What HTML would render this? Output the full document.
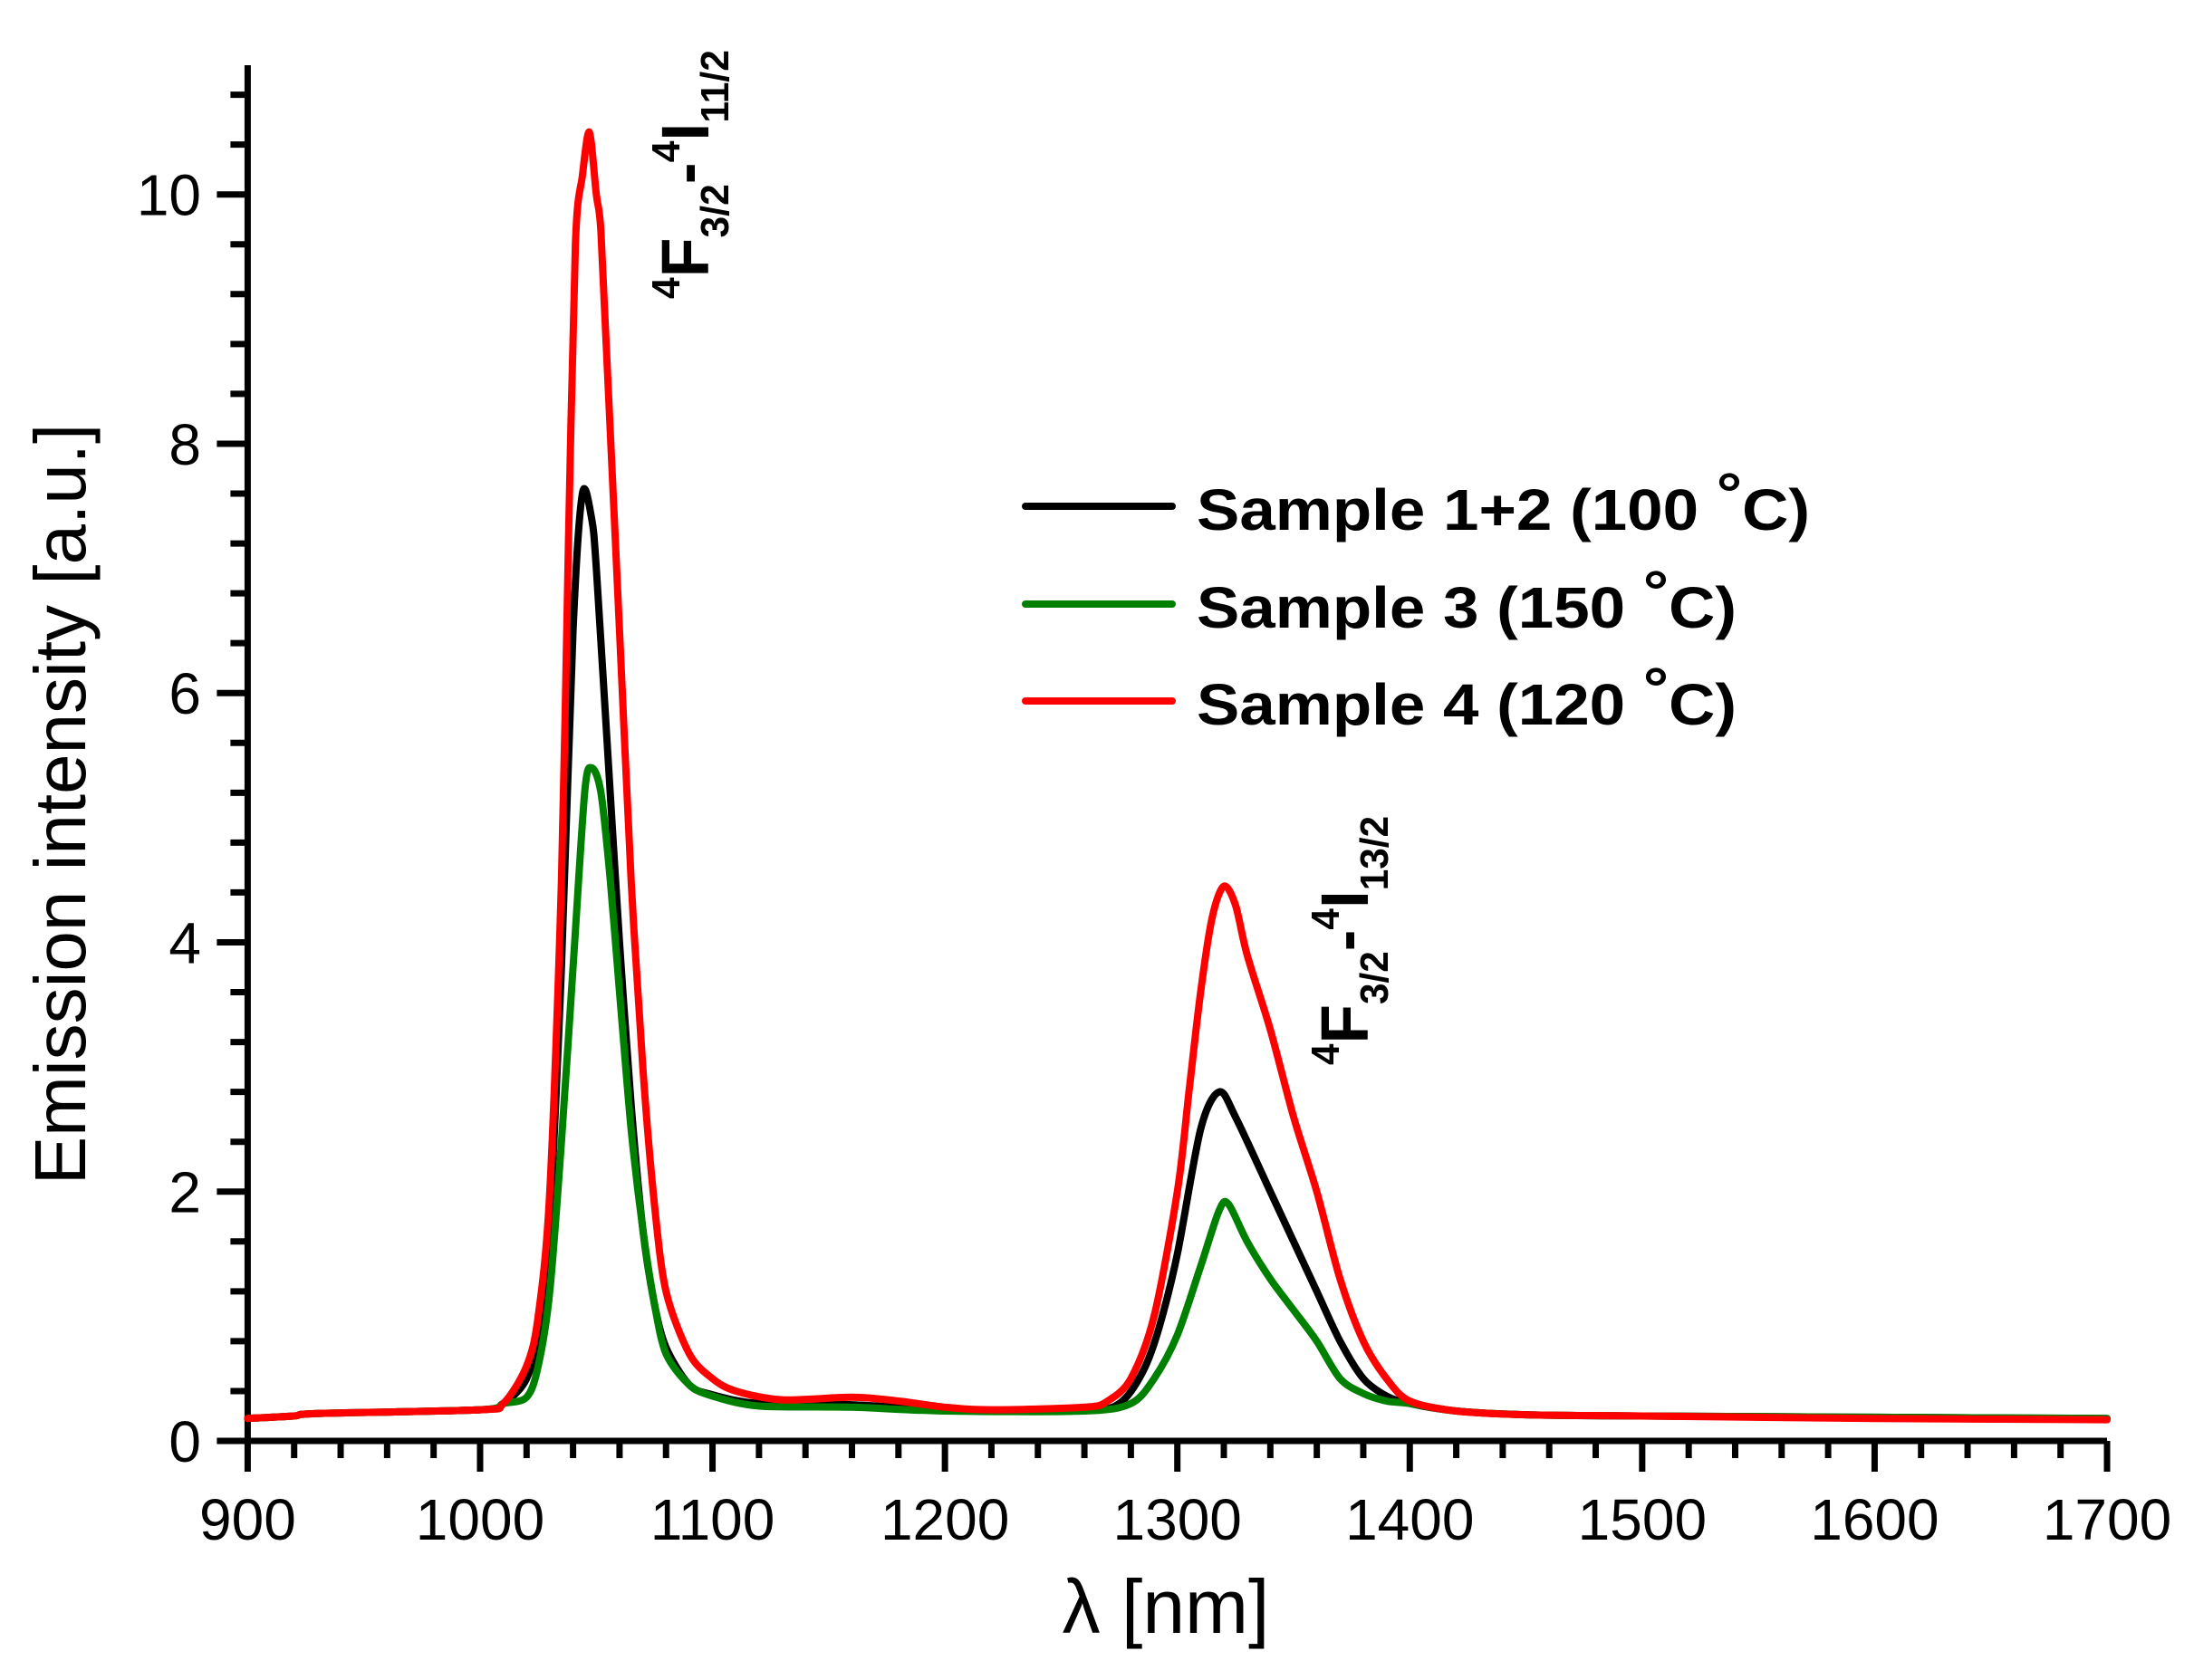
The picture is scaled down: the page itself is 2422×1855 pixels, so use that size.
<!DOCTYPE html>
<html><head><meta charset="utf-8"><style>
html,body{margin:0;padding:0;background:#fff;}
svg{display:block;font-family:"Liberation Sans",Arial,sans-serif;}
</style></head><body>
<svg id="s" width="2422" height="1855" viewBox="0 0 2422 1855" xmlns="http://www.w3.org/2000/svg">
<g id="ax" stroke="#000" stroke-width="7" fill="none" stroke-linecap="butt"></g>
<g id="curves" fill="none" stroke-width="8" stroke-linejoin="round" stroke-linecap="round"></g>
<g id="lbl" font-size="64" fill="#000"></g>
<text x="1287" y="1803" font-size="84" text-anchor="middle">λ [nm]</text>
<text transform="translate(94,888) rotate(-90)" font-size="80" text-anchor="middle">Emission intensity [a.u.]</text>
<g font-weight="bold" font-size="64" fill="#000">
<line x1="1132" y1="559" x2="1294" y2="559" stroke="#000" stroke-width="8" stroke-linecap="round"/>
<line x1="1132" y1="667" x2="1294" y2="667" stroke="#008000" stroke-width="8" stroke-linecap="round"/>
<line x1="1132" y1="774" x2="1294" y2="774" stroke="#ff0000" stroke-width="8" stroke-linecap="round"/>
<text x="1321" y="585" textLength="677" lengthAdjust="spacingAndGlyphs">Sample 1+2 (100 <tspan dy="-18">°</tspan><tspan dy="18">C)</tspan></text>
<text x="1321" y="693" textLength="596" lengthAdjust="spacingAndGlyphs">Sample 3 (150 <tspan dy="-18">°</tspan><tspan dy="18">C)</tspan></text>
<text x="1321" y="800" textLength="596" lengthAdjust="spacingAndGlyphs">Sample 4 (120 <tspan dy="-18">°</tspan><tspan dy="18">C)</tspan></text>
</g>
<g font-weight="bold" fill="#000">
<text transform="translate(782,330) rotate(-90)" font-size="74" textLength="275" lengthAdjust="spacingAndGlyphs"><tspan font-size="44" dy="-32">4</tspan><tspan dy="32">F</tspan><tspan font-size="44" dy="22">3/2</tspan><tspan dy="-22">-</tspan><tspan font-size="44" dy="-32">4</tspan><tspan dy="32">I</tspan><tspan font-size="44" dy="22">11/2</tspan></text>
<text transform="translate(1510,1176) rotate(-90)" font-size="74" textLength="275" lengthAdjust="spacingAndGlyphs"><tspan font-size="44" dy="-32">4</tspan><tspan dy="32">F</tspan><tspan font-size="44" dy="22">3/2</tspan><tspan dy="-22">-</tspan><tspan font-size="44" dy="-32">4</tspan><tspan dy="32">I</tspan><tspan font-size="44" dy="22">13/2</tspan></text>
</g>
</svg>
<script>
var X0=273.4,XS=(2326-273.4)/800,Y0=1591,YS=(1591-214.7)/10;
function px(n){return X0+(n-900)*XS;} function py(v){return Y0-v*YS;}
var NS="http://www.w3.org/2000/svg";
function el(t,a,p){var e=document.createElementNS(NS,t);for(var k in a)e.setAttribute(k,a[k]);if(p)p.appendChild(e);return e;}
var ax=document.getElementById('ax'),lbl=document.getElementById('lbl');
el('line',{x1:X0,y1:72,x2:X0,y2:Y0+3},ax);
el('line',{x1:X0-3,y1:Y0,x2:2326,y2:Y0},ax);
for(var n=900;n<=1700;n+=20){var maj=(n%100==0);el('line',{x1:px(n),y1:Y0,x2:px(n),y2:Y0+(maj?34:19)},ax);
 if(maj){var t=el('text',{x:px(n),y:1700,'text-anchor':'middle'},lbl);t.textContent=n;}}
for(var i=0;i<=27;i++){var v=i*0.4;var maj=(i%5==0);el('line',{x1:X0,y1:py(v),x2:X0-(maj?34:19),y2:py(v)},ax);
 if(maj){var t=el('text',{x:222,y:py(v)+23,'text-anchor':'end'},lbl);t.textContent=Math.round(v);}}
var base=[[900,0.18],[920,0.2],[930,0.22],[1000,0.25],[1010,0.3]];
var tail=[[1400,0.3],[1420,0.24],[1450,0.21],[1500,0.2],[1600,0.19],[1700,0.18]];
var red=base.concat([[1020,0.6],[1025,1.0],[1030,2.0],[1035,4.5],[1038,7.2],[1041,9.6],[1044,10.15],[1047,10.5],[1050,10.0],[1052,9.7],[1055,8.5],[1060,6.5],[1065,4.5],[1070,3.0],[1075,1.9],[1080,1.2],[1090,0.7],[1100,0.5],[1110,0.4],[1130,0.33],[1160,0.35],[1180,0.32],[1200,0.27],[1220,0.25],[1260,0.27],[1270,0.32],[1280,0.5],[1290,1.0],[1300,2.0],[1305,2.8],[1310,3.6],[1315,4.2],[1320,4.45],[1325,4.3],[1330,3.9],[1340,3.3],[1350,2.6],[1360,2.0],[1370,1.3],[1380,0.8],[1390,0.5]]).concat([[1400,0.32],[1420,0.24],[1450,0.21],[1500,0.2],[1600,0.18],[1700,0.17]]);
var black=base.concat([[1020,0.5],[1025,0.9],[1030,1.8],[1035,3.8],[1040,6.5],[1044,7.6],[1048,7.4],[1050,7.0],[1055,5.5],[1060,4.0],[1065,2.7],[1070,1.7],[1075,1.1],[1080,0.75],[1090,0.45],[1100,0.37],[1120,0.3],[1160,0.29],[1200,0.25],[1260,0.25],[1275,0.3],[1285,0.55],[1292,0.9],[1300,1.5],[1310,2.5],[1318,2.8],[1325,2.6],[1340,2.0],[1350,1.6],[1360,1.2],[1370,0.8],[1380,0.5],[1390,0.36]]).concat(tail);
var green=base.concat([[1020,0.35],[1025,0.6],[1030,1.2],[1035,2.4],[1040,3.8],[1045,5.2],[1048,5.4],[1052,5.2],[1056,4.5],[1060,3.6],[1065,2.5],[1070,1.7],[1075,1.1],[1080,0.7],[1090,0.45],[1100,0.36],[1120,0.28],[1160,0.27],[1200,0.24],[1260,0.24],[1280,0.3],[1290,0.5],[1300,0.85],[1310,1.4],[1318,1.85],[1322,1.9],[1330,1.6],[1340,1.3],[1350,1.05],[1360,0.8],[1370,0.5],[1380,0.38],[1390,0.32]]).concat(tail);
function path(d){var p=d.map(function(a){return [px(a[0]),py(a[1])];});var s='M'+p[0][0].toFixed(1)+' '+p[0][1].toFixed(1);
 for(var i=0;i<p.length-1;i++){var a=p[i-1]||p[i],b=p[i],c=p[i+1],e=p[i+2]||c;var t=0.15;
  s+=' C'+(b[0]+(c[0]-a[0])*t).toFixed(1)+' '+(b[1]+(c[1]-a[1])*t).toFixed(1)+' '+(c[0]-(e[0]-b[0])*t).toFixed(1)+' '+(c[1]-(e[1]-b[1])*t).toFixed(1)+' '+c[0].toFixed(1)+' '+c[1].toFixed(1);}
 return s;}
var cg=document.getElementById('curves');
el('path',{d:path(black),stroke:'#000'},cg);
el('path',{d:path(green),stroke:'#008000'},cg);
el('path',{d:path(red),stroke:'#ff0000'},cg);
</script>
</body></html>
